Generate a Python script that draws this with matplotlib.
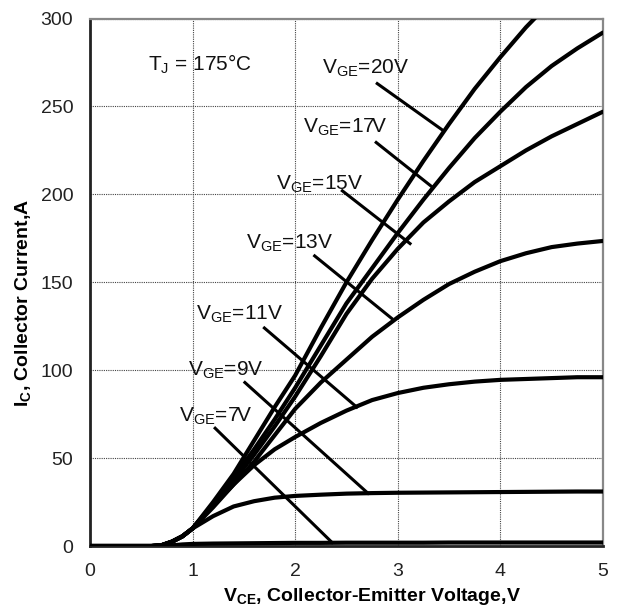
import numpy as np
import matplotlib
matplotlib.use('Agg')
import matplotlib.pyplot as plt

plt.rcParams['font.family'] = ['Liberation Sans', 'DejaVu Sans']
plt.rcParams['mathtext.fontset'] = 'custom'
plt.rcParams['mathtext.rm'] = 'Liberation Sans'
plt.rcParams['mathtext.bf'] = 'Liberation Sans:bold'

# collector-emitter voltage, V
vce = [0, 0.6, 0.7, 0.8, 0.9, 1.0, 1.2, 1.4, 1.6, 1.8, 2.0, 2.25, 2.5,
       2.75, 3.0, 3.25, 3.5, 3.75, 4.0, 4.25, 4.5, 4.75, 5.0]

# collector current, A, for each gate voltage
ic_20 = [0, 0, 0.5, 2.5, 5.5, 10, 25, 41, 60, 79, 97, 124, 150,
         174, 197, 219, 240, 260, 278, 295, 310, 322, 332]
ic_17 = [0, 0, 0.5, 2.5, 5.5, 10, 24, 39, 55, 72, 90, 114, 138,
         158, 178, 197, 215, 232, 247, 261, 273, 283, 292]
ic_15 = [0, 0, 0.5, 2.5, 5.5, 10, 23, 37, 52, 68, 85, 108, 132,
         152, 169, 184, 196, 207, 216, 225, 233, 240, 247]
ic_13 = [0, 0, 0.5, 2.5, 5.5, 10, 22, 35, 48, 63, 78, 93, 106,
         119, 130, 140, 149, 156, 162, 166.5, 170, 172, 173.5]
ic_11 = [0, 0, 0.5, 2.5, 5.5, 10, 23, 35, 46, 55, 62, 70, 77,
         83, 87, 90, 92, 93.5, 94.5, 95, 95.5, 96, 96]
ic_9 = [0, 0, 0.5, 2.5, 5.5, 10, 17, 22.5, 25.5, 27.5, 28.5, 29.2, 29.8,
        30.1, 30.3, 30.4, 30.5, 30.6, 30.7, 30.8, 30.9, 31, 31]
ic_7 = [0, 0, 0, 0.4, 0.9, 1.2, 1.4, 1.5, 1.6, 1.7, 1.8, 1.8, 1.9,
        1.9, 1.9, 1.9, 2.0, 2.0, 2.0, 2.0, 2.0, 2.0, 2.0]

curves = [ic_20, ic_17, ic_15, ic_13, ic_11, ic_9, ic_7]
labels = ['20', '17', '15', '13', '11', '9', '7']

# label text position and leader line (start, end on the curve)
text_xy = [(2.69, 271.5), (2.49, 238), (2.24, 206), (1.95, 172.5),
           (1.46, 132), (1.32, 100), (1.22, 74)]
lead_from = [(2.80, 263), (2.79, 229.5), (2.46, 202), (2.19, 165),
             (1.70, 124), (1.51, 93), (1.22, 67)]
lead_to = [(3.44, 236.4), (3.34, 204), (3.12, 172), (2.94, 129.5),
           (2.60, 79), (2.71, 30), (2.36, 2)]

fig = plt.figure(figsize=(6.19, 6.09), dpi=100)
ax = fig.add_axes([0.1454, 0.1034, 0.8286, 0.8662])

for ic in curves:
    ax.plot(vce, ic, color='black', lw=3.0, solid_capstyle='round',
            solid_joinstyle='round', zorder=3)

for lab, t, a, b in zip(labels, text_xy, lead_from, lead_to):
    ax.plot([a[0], b[0]], [a[1], b[1]], color='black', lw=2.2, zorder=3)
    ax.text(t[0], t[1], r'V$_{\mathregular{GE}}$=' + lab + 'V', fontsize=15,
            ha='center', va='center', color='#111111', zorder=4)

ax.text(1.07, 274, r'T$_{\mathregular{J}}$ = 175°C', fontsize=15,
        ha='center', va='center', color='#111111')

ax.set_xlim(0, 5)
ax.set_ylim(0, 300)
ax.set_xticks([0, 1, 2, 3, 4, 5])
ax.set_yticks([0, 50, 100, 150, 200, 250, 300])
ax.tick_params(length=0, labelsize=14, pad=12, colors='#222222')
ax.grid(True, color='#444444', ls=(0, (1, 1)), lw=0.8)
ax.set_axisbelow(True)

for s in ['top', 'right']:
    ax.spines[s].set_color('#888888')
    ax.spines[s].set_linewidth(1.6)
for s in ['left', 'bottom']:
    ax.spines[s].set_color('#222222')
    ax.spines[s].set_linewidth(2.0)

ax.set_xlabel(r'V$_{\mathregular{CE}}$, Collector-Emitter Voltage,V',
              fontsize=14, fontweight='bold')
ax.set_ylabel(r'I$_{\mathregular{C}}$, Collector Current,A',
              fontsize=14, fontweight='bold')
ax.xaxis.set_label_coords(0.55, -0.075)
ax.yaxis.set_label_coords(-0.11, 0.46)

fig.savefig('out.png', dpi=100)
